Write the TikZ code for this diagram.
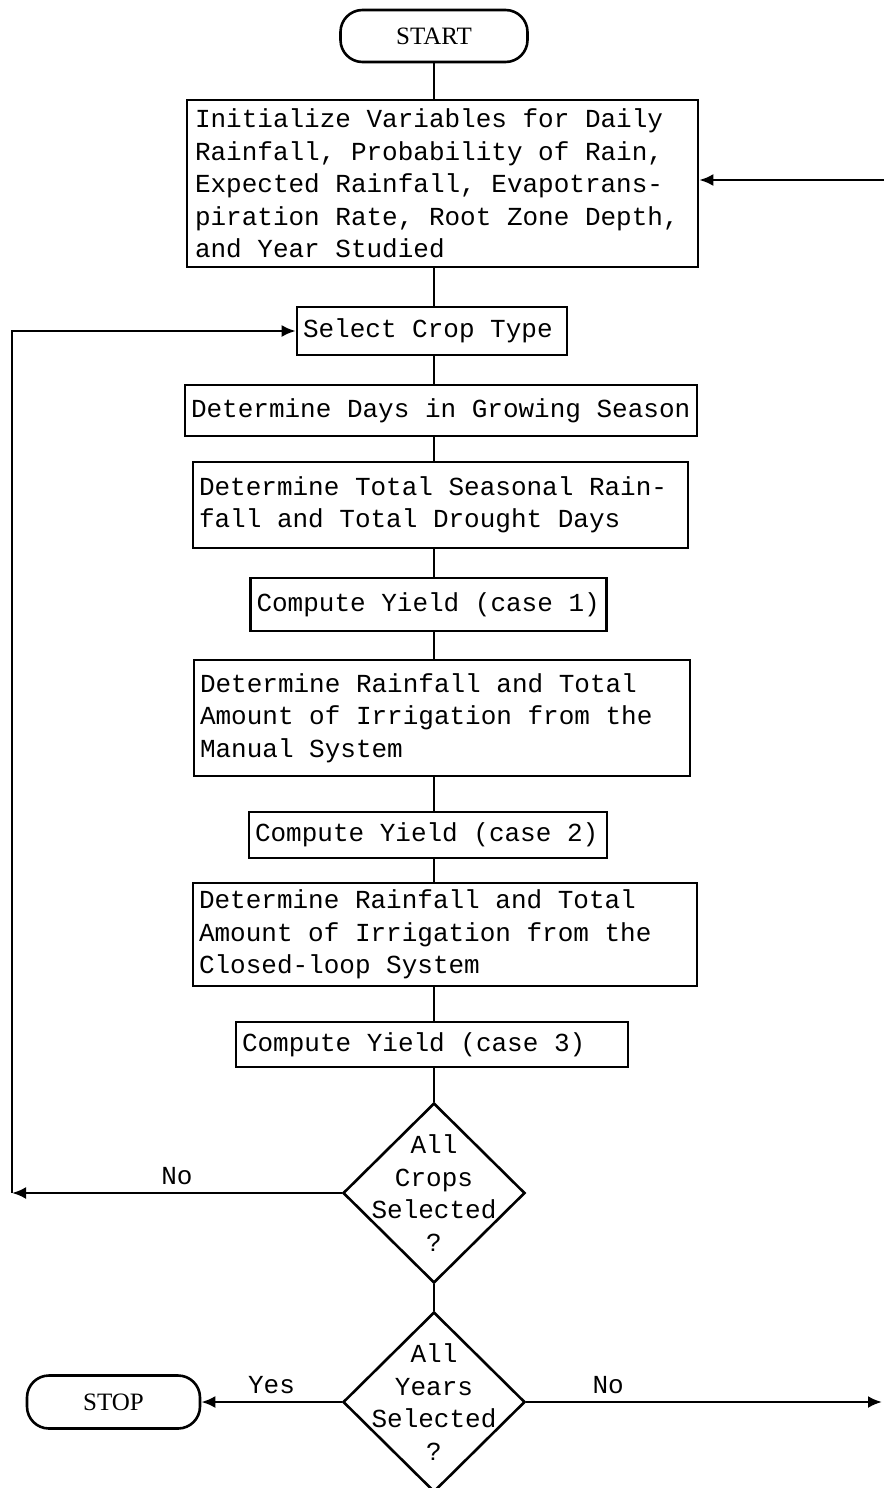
\documentclass[tikz,border=0pt]{standalone}
\usepackage{fontspec}
\setmainfont{Liberation Serif}
\setmonofont{Liberation Mono}
\usetikzlibrary{arrows.meta,shapes.geometric}

\newcommand{\boxfont}{\ttfamily\fontsize{13}{16.25}\selectfont}

\begin{document}
\begin{tikzpicture}[
    x=0.5pt, y=-0.5pt,
    line width=1.3pt,
    every node/.style={execute at begin node={\spaceskip=0.6em\xspaceskip=0.6em\relax}},
    box/.style={rectangle, draw, inner xsep=3pt, inner ysep=2pt, align=left, font=\boxfont},
    term/.style={rectangle, draw, rounded corners=11pt, font=\fontsize{12.5}{14}\selectfont},
    dec/.style={diamond, draw, minimum width=91pt, minimum height=90pt, inner sep=0pt},
    lbl/.style={font=\boxfont},
    arr/.style={-{Latex[length=7pt,width=6pt]}}
]
\useasboundingbox (0,0) rectangle (884,1488);

\node[term, minimum width=93.5pt, minimum height=26pt] (start) at (434,36) {START};
\node[box, text width=247.5pt, minimum height=83.5pt, inner xsep=4pt] (init) at (442.5,183.5)
  {Initialize Variables for Daily\\Rainfall, Probability of Rain,\\Expected Rainfall, Evapotrans-\\piration Rate, Root Zone Depth,\\and Year Studied};
\node[box, text width=129pt, minimum height=24pt] (select) at (432,331) {Select Crop Type};
\node[box, text width=250pt, minimum height=25.5pt] (days) at (441,410.5) {Determine Days in Growing Season};
\node[box, text width=241.5pt, minimum height=43pt] (seasonal) at (440.5,505)
  {Determine Total Seasonal Rain-\\fall and Total Drought Days};
\node[box, text width=172pt, minimum height=26.5pt] (caseone) at (428.5,604.5) {Compute Yield (case 1)};
\node[box, text width=242pt, minimum height=58pt] (manual) at (442,718)
  {Determine Rainfall and Total\\Amount of Irrigation from the\\Manual System};
\node[box, text width=173pt, minimum height=23pt] (casetwo) at (428,835) {Compute Yield (case 2)};
\node[box, text width=246pt, minimum height=51.5pt] (closed) at (445,934.5)
  {Determine Rainfall and Total\\Amount of Irrigation from the\\Closed-loop System};
\node[box, text width=190pt, minimum height=22.5pt] (casethree) at (432,1044.5) {Compute Yield (case 3)};
\node[dec, label={[lbl, align=center]center:{All\\Crops\\Selected\\?}}] (cropsq) at (434,1193) {};
\node[dec, label={[lbl, align=center]center:{All\\Years\\Selected\\?}}] (yearsq) at (434,1402) {};
\node[term, minimum width=86.5pt, minimum height=26.5pt] (stop) at (113.5,1402) {STOP};

% main line down the page
\coordinate (spine) at (434,0);
\foreach \a/\b in {start/init, init/select, select/days, days/seasonal, seasonal/caseone, caseone/manual, manual/casetwo, casetwo/closed, closed/casethree, casethree/cropsq, cropsq/yearsq}
  \draw (spine |- \a.south) -- (spine |- \b.north);

% loops
\coordinate (lcorner) at (12,1193);
\coordinate (rin) at (884,180);
\coordinate (rout) at (882,1402);
\draw[arr] (cropsq.west) -- node[lbl, above] {No} (lcorner);
\draw[arr] (lcorner) |- (select.west);
\draw[arr] (rin) -- (rin -| init.east);
\draw[arr] (yearsq.west) -- node[lbl, above] {Yes} (stop.east);
\draw[arr] (yearsq.east) -- node[lbl, above, pos=0.23] {No} (rout);
\end{tikzpicture}
\end{document}
